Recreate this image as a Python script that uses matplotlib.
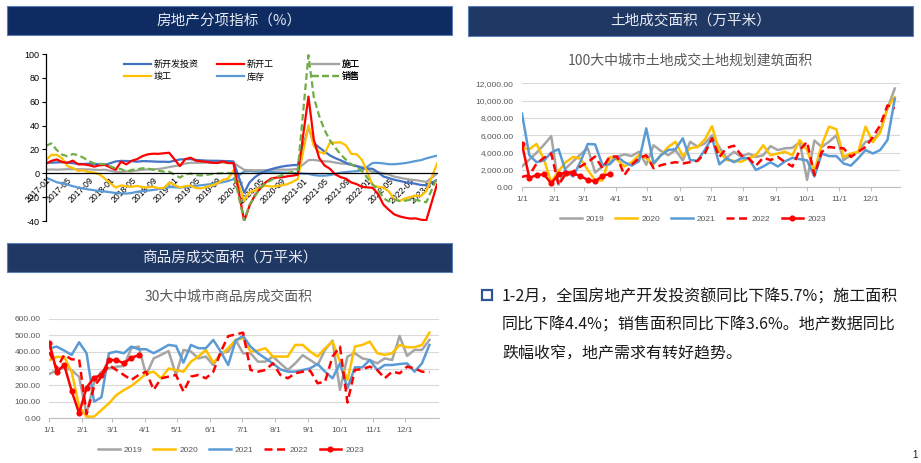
import numpy as np
import pandas as pd
import matplotlib.pyplot as plt
from matplotlib.patches import Rectangle

plt.rcParams['font.family'] = ['Liberation Sans', 'Noto Sans CJK SC', 'DejaVu Sans']
plt.rcParams['axes.unicode_minus'] = False

nan = np.nan
W, H = 921, 463

# ---------------- 房地产分项指标 (%), monthly 2017-01 .. 2023-02
months = pd.date_range('2017-01-01', '2023-02-01', freq='MS')

invest = [8.9, 8.9, 9.1, 9.3, 8.8, 8.5, 7.9, 7.8, 8.1, 7.8, 7.5, 7.0,
          nan, 9.9, 10.4, 10.3, 10.2, 9.7, 10.2, 10.1, 9.9, 9.7, 9.7, 9.5,
          nan, 11.6, 11.8, 11.9, 11.2, 10.9, 10.6, 10.5, 10.5, 10.3, 10.2, 9.9,
          nan, -16.3, -7.7, -3.3, -0.3, 1.9, 3.4, 4.6, 5.6, 6.3, 6.8, 7.0,
          nan, 38.3, 25.6, 21.6, 18.3, 15.0, 12.7, 10.9, 8.8, 7.2, 6.0, 4.4,
          nan, 3.7, 0.7, -2.7, -4.0, -5.4, -6.4, -7.4, -8.0, -8.8, -9.8, -10.0,
          nan, -5.7]
new_start = [8.0, 10.4, 11.6, 9.5, 8.8, 10.6, 7.5, 7.5, 6.8, 5.6, 6.7, 7.0,
             nan, 2.9, 9.7, 7.5, 10.5, 11.8, 14.4, 15.9, 16.4, 16.3, 16.8, 17.2,
             nan, 6.0, 11.9, 13.1, 10.5, 10.1, 9.5, 8.9, 8.6, 10.0, 8.6, 8.5,
             nan, -40.0, -27.2, -18.4, -12.8, -7.6, -4.5, -3.6, -3.4, -2.6, -2.0, -1.2,
             nan, 64.3, 28.2, 12.8, 6.6, 3.8, -0.9, -3.2, -4.5, -7.7, -9.1, -11.4,
             nan, -12.2, -17.5, -26.3, -30.6, -34.4, -36.1, -37.2, -38.0, -37.8, -38.9, -39.4,
             nan, -9.4]
construct = [3.0, 3.2, 3.0, 3.2, 3.4, 3.4, 3.4, 3.3, 3.2, 3.0, 2.8, 3.0,
             nan, 1.3, 1.2, 1.6, 1.6, 2.4, 2.9, 3.3, 3.4, 3.6, 4.3, 5.2,
             nan, 6.8, 8.2, 8.8, 8.8, 8.8, 9.0, 8.8, 8.7, 9.0, 8.7, 8.7,
             nan, 2.9, 2.6, 2.5, 2.6, 2.6, 2.9, 3.1, 3.1, 3.0, 3.2, 3.7,
             nan, 11.0, 11.2, 10.5, 10.1, 9.8, 9.0, 8.2, 7.9, 7.1, 6.1, 5.2,
             nan, 1.1, 1.0, -0.2, -1.0, -2.8, -3.7, -4.5, -5.3, -5.7, -6.5, -7.2,
             nan, -0.3]
complete = [11.0, 15.5, 15.5, 12.5, 6.0, 4.5, 2.0, 2.5, 1.0, 0.5, -1.0, -4.4,
            nan, -12.0, -10.2, -10.9, -11.3, -10.6, -11.6, -11.8, -11.3, -12.5, -12.3, -7.8,
            nan, -11.9, -10.8, -10.3, -12.4, -12.7, -11.3, -10.0, -8.6, -5.5, -4.5, 2.6,
            nan, -22.9, -15.8, -14.5, -11.5, -10.5, -11.0, -10.8, -10.1, -9.2, -7.3, -4.9,
            nan, 40.4, 22.9, 17.9, 16.4, 25.7, 25.7, 26.0, 23.4, 16.3, 16.0, 11.2,
            nan, -9.8, -11.5, -11.9, -15.3, -21.5, -23.3, -21.1, -19.9, -18.7, -19.0, -15.0,
            nan, 8.0]
inventory = [-3.7, -5.5, -7.5, -8.5, -9.5, -10.8, -11.9, -12.8, -13.6, -14.2, -14.9, -15.3,
             nan, -16.5, -16.8, -17.0, -16.5, -15.5, -15.0, -14.5, -14.0, -13.3, -12.8, -11.5,
             nan, -12.0, -11.5, -11.0, -10.5, -10.0, -9.5, -9.0, -8.3, -7.5, -6.5, -5.0,
             nan, 1.5, 1.8, 1.5, 1.2, 1.0, 1.0, 0.8, 0.6, 0.5, 0.3, 0.0,
             nan, -0.5, -1.5, -2.0, -2.0, -1.5, -0.5, 0.5, 1.0, 1.5, 1.8, 2.5,
             nan, 8.7, 8.7, 8.3, 7.6, 7.6, 8.0, 8.5, 9.3, 10.3, 11.0, 12.5,
             nan, 14.8]
sales = [23.0, 25.1, 19.5, 15.7, 14.3, 16.1, 15.3, 13.0, 10.3, 8.2, 7.9, 7.7,
         nan, 4.1, 3.6, 1.3, 2.9, 3.3, 4.2, 4.0, 2.9, 2.2, 1.4, 1.3,
         nan, -3.6, -0.9, -0.3, -1.6, -1.8, -1.3, -0.6, -0.1, 0.1, 0.2, -0.1,
         nan, -39.9, -26.3, -19.3, -12.3, -8.4, -5.8, -3.3, -1.8, 0.0, 1.3, 2.6,
         nan, 99.0, 63.8, 48.1, 36.3, 27.7, 21.5, 15.9, 11.3, 7.5, 4.8, 1.9,
         nan, -9.6, -13.8, -20.9, -23.6, -22.2, -23.1, -23.0, -22.2, -22.3, -23.3, -24.3,
         nan, -3.6]

# ---------------- 100大中城市土地成交 (万平米), weekly
land_2019 = [2400, 3200, 4000, 4900, 5900, 300, 2200, 3000, 3800, 4500,
             1700, 2400, 2900, 3500, 3800, 3600, 4100, 2600, 4850, 4200,
             3700, 4300, 3100, 5250, 4700, 5050, 6000, 4600, 3400, 4100,
             3500, 3900, 3500, 3700, 4750, 4300, 4500, 4550, 5200, 850,
             5400, 4650, 5250, 6000, 3150, 3700, 4100, 5250, 5450, 6400,
             9100, 11400]
land_2020 = [4600, 4400, 5000, 3200, 600, 1900, 2900, 3500, 3300, 2000,
             800, 800, 3500, 3200, 2400, 2900, 3700, 3350, 2650, 3700,
             4650, 5250, 3600, 4500, 4650, 5500, 7050, 4100, 3150, 3050,
             2950, 3350, 3700, 4850, 3700, 3900, 4100, 3700, 5450, 4300,
             1900, 4850, 7000, 6700, 3500, 3900, 4100, 7000, 5200, 6300,
             9200, 10400]
land_2021 = [8500, 3700, 2900, 3100, 4000, 4400, 1800, 1250, 2950, 5000,
             4950, 2600, 2650, 3550, 2900, 2500, 3000, 6800, 2750, 3700,
             4300, 4400, 5650, 3150, 3050, 4300, 5700, 2650, 3350, 2900,
             3350, 3350, 2000, 2400, 2900, 2400, 3000, 3400, 3250, 3100,
             1250, 3900, 3600, 3600, 2750, 2500, 3350, 4300, 3900, 4300,
             5450, 10200]
land_2022 = [1200, 1400, 2750, 3400, 3900, 250, 1600, 1800, 2400, 2900,
             3550, 2200, 3550, 3550, 1400, 2600, 3350, 3700, 2200, 2550,
             2750, 2900, 2750, 2900, 3050, 3900, 5650, 3500, 4550, 4800,
             3700, 3350, 2500, 3400, 3150, 3500, 2900, 2400, 4300, 5250,
             1400, 4100, 4650, 4550, 4500, 3500, 4100, 4650, 5800, 7150,
             9450, 9100]
land_2023 = [4950, 1100, 1400, 1500, 450, 1500, 1700, 1600, 1300, 850, 700, 1300, 1550]

# ---------------- 30大中城市商品房成交 (万平米), weekly
deal_2019 = [267, 290, 305, 290, 250, 25, 215, 281, 301, 311,
             315, 422, 432, 260, 361, 382, 405, 261, 412, 402,
             361, 372, 321, 392, 402, 472, 392, 392, 341, 341,
             372, 331, 291, 331, 380, 351, 321, 412, 468, 171,
             372, 392, 361, 351, 331, 361, 351, 496, 376, 412,
             412, 472]
deal_2020 = [350, 370, 370, 280, 70, 10, 10, 50, 90, 140,
             170, 195, 230, 270, 281, 241, 300, 290, 281, 341,
             372, 412, 335, 382, 422, 472, 482, 402, 408, 422,
             372, 372, 372, 442, 442, 402, 372, 422, 462, 341,
             231, 432, 442, 462, 392, 382, 392, 442, 428, 428,
             442, 516]
deal_2021 = [422, 432, 408, 382, 458, 392, 100, 127, 392, 402,
             392, 432, 416, 416, 392, 416, 442, 436, 335, 442,
             422, 422, 472, 402, 321, 468, 496, 432, 392, 361,
             331, 295, 281, 281, 291, 301, 327, 281, 241, 331,
             181, 307, 307, 351, 291, 321, 321, 327, 331, 281,
             331, 442]
deal_2022 = [400, 300, 382, 355, 355, 25, 191, 251, 321, 291,
             261, 231, 261, 281, 171, 241, 251, 261, 161, 251,
             261, 241, 280, 400, 495, 505, 516, 291, 281, 291,
             331, 261, 241, 271, 281, 287, 211, 221, 372, 432,
             95, 291, 297, 311, 291, 241, 281, 271, 311, 301,
             281, 278]
deal_2023 = [456, 280, 321, 165, 30, 185, 245, 261, 351, 351, 331, 365, 380]

month_days = [0, 31, 59, 90, 120, 151, 181, 212, 243, 273, 304, 334]
month_labels = ['%d/1' % m for m in range(1, 13)]
years = ['2019', '2020', '2021', '2022', '2023']

bullet_lines = ['1-2月，全国房地产开发投资额同比下降5.7%；施工面积',
                '同比下降4.4%；销售面积同比下降3.6%。地产数据同比',
                '跌幅收窄，地产需求有转好趋势。']

CJK = ['Noto Sans CJK SC']


def px_box(x0, y0, x1, y1):
    return [x0 / W, 1 - y1 / H, (x1 - x0) / W, (y1 - y0) / H]


def header(x0, y0, x1, y1, text, color):
    l, b, w, h = px_box(x0, y0, x1, y1)
    fig.patches.append(Rectangle((l, b), w, h, transform=fig.transFigure,
                                 facecolor=color, edgecolor='#5B7DB8', lw=0.8))
    fig.text(l + w / 2, b + h / 2, text, color='#E8EAF2', fontsize=10.5,
             ha='center', va='center', family=CJK)


def weekly_chart(box, xmax, data, ymax, ystep, fmt, title, title_xy, leg_xy):
    ax = fig.add_axes(px_box(*box))
    days = np.arange(52) * 7
    ax.plot(days, data[0], color='#A5A5A5', lw=1.8)
    ax.plot(days, data[1], color='#FFC000', lw=1.8)
    ax.plot(days, data[2], color='#5B9BD5', lw=1.8)
    ax.plot(days, data[3], color='#FF0000', lw=1.8, ls=(0, (3.2, 1.8)))
    ax.plot(days[:len(data[4])], data[4], color='#FF0000', lw=1.8,
            marker='o', ms=3.4)
    ax.set_xlim(0, xmax)
    ax.set_ylim(0, ymax)
    ticks = np.arange(0, ymax + 1, ystep)
    ax.set_yticks(ticks)
    ax.set_yticklabels([fmt.format(v) for v in ticks])
    ax.set_xticks(month_days)
    ax.set_xticklabels(month_labels)
    ax.grid(axis='y', color='#D9D9D9', lw=0.8)
    ax.set_axisbelow(True)
    for s in ['left', 'top', 'right']:
        ax.spines[s].set_visible(False)
    ax.spines['bottom'].set_color('#BFBFBF')
    ax.tick_params(axis='y', length=0, pad=6, labelsize=6, labelcolor='#595959')
    ax.tick_params(axis='x', length=3, color='#BFBFBF', pad=3, labelsize=6,
                   labelcolor='#595959')
    fig.text(title_xy[0] / W, 1 - title_xy[1] / H, title, fontsize=10,
             color='#595959', ha='center', va='center', family=CJK)
    fig.legend(ax.get_lines(), years, loc='center', ncol=5,
               bbox_to_anchor=(leg_xy[0] / W, 1 - leg_xy[1] / H),
               frameon=False, fontsize=6, handlelength=2.6, handletextpad=0.5,
               columnspacing=1.3, labelcolor='#595959')
    return ax


fig = plt.figure(figsize=(W / 100, H / 100), dpi=100)

# ---- headers
header(7, 6, 452, 35, '房地产分项指标（%）', '#0E2C62')
header(468, 6, 913, 36, '土地成交面积（万平米）', '#1F3864')
header(7, 243, 452, 272, '商品房成交面积（万平米）', '#1F3864')

# ---- top-left: monthly indicators
ax1 = fig.add_axes(px_box(46, 54, 437, 221))
x = np.arange(len(months))
series = [
    ('库存', inventory, '#5B9BD5', '-'),
    ('施工', construct, '#A5A5A5', '-'),
    ('新开发投资', invest, '#4472C4', '-'),
    ('竣工', complete, '#FFC000', '-'),
    ('新开工', new_start, '#FF0000', '-'),
    ('销售', sales, '#70AD47', (0, (3, 1.6))),
]
lines = {}
for name, vals, col, ls in series:
    v = np.array(vals, dtype=float)
    ok = ~np.isnan(v)
    lines[name], = ax1.plot(x[ok], v[ok], color=col, lw=1.6, ls=ls)

ax1.set_xlim(0, 73)
ax1.set_ylim(-40, 100)
ax1.set_yticks(range(-40, 101, 20))
ax1.spines[['top', 'right']].set_visible(False)
ax1.spines['bottom'].set_position(('data', 0))
ax1.spines['left'].set_linewidth(0.9)
ax1.spines['bottom'].set_linewidth(0.9)
ax1.set_xticks(x[::4])
ax1.set_xticklabels([d.strftime('%Y-%m') for d in months[::4]], rotation=45,
                    ha='right', va='top', rotation_mode='anchor')
ax1.tick_params(axis='x', length=0, pad=2, labelsize=6.2)
ax1.tick_params(axis='y', length=3, pad=1.5, labelsize=6.5)

leg_cols = [(['新开发投资', '竣工'], 118), (['新开工', '库存'], 211), (['施工', '销售'], 306)]
for names, xpx in leg_cols:
    lg = ax1.legend([lines[n] for n in names], names, loc='upper left',
                    bbox_to_anchor=(xpx / W, 1 - 54 / H),
                    bbox_transform=fig.transFigure, frameon=False,
                    fontsize=6.5, handlelength=2.9, handletextpad=0.3,
                    labelspacing=0.35, borderpad=0.2)
    ax1.add_artist(lg)

# ---- top-right: land deals
weekly_chart((522, 83.3, 900, 187.3), 362,
             [land_2019, land_2020, land_2021, land_2022, land_2023],
             12000, 2000, '{:,.2f}', '100大中城市土地成交土地规划建筑面积',
             (690, 61), (693, 219))

# ---- bottom-left: housing deals
weekly_chart((49.3, 318.7, 439, 418.3), 366,
             [deal_2019, deal_2020, deal_2021, deal_2022, deal_2023],
             600, 100, '{:.2f}', '30大中城市商品房成交面积',
             (229, 297), (231, 450))

# ---- bottom-right: commentary
l, b, w, h = px_box(482, 290, 492, 300)
fig.patches.append(Rectangle((l, b), w, h, transform=fig.transFigure,
                             facecolor='white', edgecolor='#2F5597', lw=1.6))
for i, t in enumerate(bullet_lines):
    fig.text(502 / W, 1 - (297 + 28.3 * i) / H, t, fontsize=11.5,
             color='#1A1A1A', ha='left', va='center', family=CJK)

# page number in the corner
fig.text(915 / W, 1 - 455 / H, '1', fontsize=7, color='#1A1A1A',
         ha='center', va='center')

fig.savefig('out.png', dpi=100)
